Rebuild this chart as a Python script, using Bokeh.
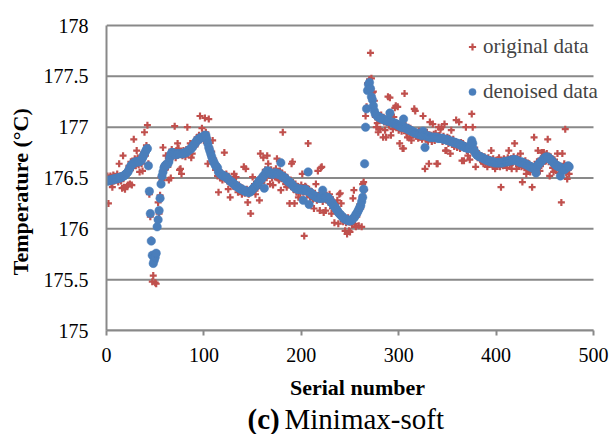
import math

from bokeh.embed import file_html
from bokeh.layouts import column, row
from bokeh.models import (ColumnDataSource, FixedTicker, Label, Legend,
                          LegendItem, NumeralTickFormatter, Range1d)
from bokeh.plotting import figure
from bokeh.resources import INLINE

# ---- data -----------------------------------------------------------------
serial = list(range(1, 476))

original = [
    176.52, 176.25, 176.50, 176.52, 176.45, 176.41, 176.53, 176.47, 176.51, 176.48,
    176.54, 176.46, 176.64, 176.52, 176.47, 176.40, 176.72, 176.41, 176.39, 176.56,
    176.42, 176.43, 176.62, 176.44, 176.66, 176.43, 176.60, 176.88, 176.69, 176.62,
    176.77, 176.70, 176.63, 176.56, 176.71, 176.64, 176.57, 176.75, 176.95, 176.72,
    176.82, 177.02, 176.64, 176.34, 176.12, 175.89, 175.48, 175.54, 175.72, 175.47,
    175.46, 176.02, 176.26, 176.15, 176.33, 176.51, 176.48, 176.80, 176.62, 176.58,
    176.72, 176.66, 176.61, 176.48, 176.68, 176.50, 176.78, 176.72, 176.76, 177.01,
    176.70, 176.77, 176.84, 176.79, 176.58, 176.59, 176.54, 176.72, 176.77, 176.74,
    176.71, 176.78, 177.00, 176.74, 176.80, 176.84, 176.70, 176.74, 176.80, 176.86,
    176.81, 176.84, 176.90, 176.85, 176.92, 177.11, 176.88, 176.99, 176.93, 176.87,
    177.09, 176.95, 176.90, 176.64, 177.08, 176.80, 176.72, 176.76, 176.87, 176.69,
    176.64, 176.58, 176.63, 176.52, 176.36, 176.57, 176.50, 176.55, 176.48, 176.53,
    176.75, 176.49, 176.54, 176.47, 176.39, 176.50, 176.31, 176.44, 176.49, 176.42,
    176.54, 176.45, 176.51, 176.39, 176.36, 176.43, 176.38, 176.41, 176.34, 176.40,
    176.61, 176.35, 176.59, 176.39, 176.26, 176.34, 176.38, 176.15, 176.40, 176.51,
    176.37, 176.44, 176.34, 176.46, 176.40, 176.48, 176.28, 176.74, 176.45, 176.52,
    176.70, 176.48, 176.58, 176.52, 176.72, 176.64, 176.53, 176.44, 176.58, 176.50,
    176.43, 176.57, 176.51, 176.59, 176.69, 176.50, 176.48, 176.57, 176.38, 176.55,
    176.95, 176.47, 176.53, 176.44, 176.41, 176.50, 176.43, 176.25, 176.48, 176.64,
    176.66, 176.39, 176.25, 176.44, 176.36, 176.42, 176.31, 176.41, 176.35, 176.43,
    176.54, 176.36, 175.93, 176.42, 176.41, 176.34, 176.84, 176.39, 176.31, 176.37,
    176.34, 176.29, 176.20, 176.35, 176.44, 176.28, 176.57, 176.33, 176.18, 176.60,
    176.61, 176.27, 176.16, 176.34, 176.18, 176.33, 176.28, 176.26, 176.34, 176.31,
    176.15, 176.20, 176.27, 176.06, 176.24, 176.17, 176.28, 176.05, 176.34, 176.35,
    176.25, 176.14, 176.07, 176.12, 175.98, 176.06, 175.95, 176.11, 175.98, 175.97,
    176.10, 176.04, 176.30, 176.38, 176.05, 176.02, 176.12, 176.18, 176.03, 176.24,
    176.20, 176.02, 176.44, 176.46, 176.38, 177.11, 177.20, 177.43, 177.40, 177.47,
    177.73, 177.48, 177.34, 177.35, 177.26, 177.10, 177.00, 177.04, 176.95, 177.07,
    176.98, 177.12, 177.07, 176.90, 177.05, 176.97, 176.90, 177.08, 177.30, 177.02,
    177.29, 176.92, 177.06, 176.98, 177.10, 177.19, 177.21, 177.03, 177.20, 176.97,
    176.84, 177.05, 176.96, 176.79, 176.79, 177.33, 177.02, 176.94, 176.90, 177.00,
    176.90, 176.99, 176.87, 176.97, 176.92, 177.18, 177.16, 176.91, 176.95, 176.89,
    176.96, 176.90, 176.94, 176.88, 177.11, 176.93, 176.59, 176.88, 176.95, 176.86,
    176.64, 177.05, 176.92, 176.86, 177.03, 176.93, 176.87, 176.94, 176.64, 176.64,
    177.00, 176.92, 176.98, 177.00, 176.86, 176.91, 177.03, 176.77, 176.77, 176.90,
    176.84, 176.89, 176.74, 176.97, 176.83, 176.88, 176.81, 176.86, 177.07, 176.80,
    176.82, 177.05, 176.79, 176.85, 176.67, 176.84, 176.67, 176.82, 177.00, 176.77,
    176.72, 176.83, 176.68, 176.78, 177.13, 177.00, 176.75, 176.80, 176.61, 176.76,
    176.70, 176.74, 176.70, 176.68, 176.72, 176.66, 176.64, 176.71, 176.65, 176.69,
    176.61, 176.70, 176.64, 176.68, 176.77, 176.63, 176.69, 176.62, 176.59, 176.67,
    176.63, 176.68, 176.70, 176.61, 176.41, 176.66, 176.62, 176.69, 176.64, 176.67,
    176.60, 176.70, 176.77, 176.63, 176.69, 176.59, 176.65, 176.71, 176.84, 176.66,
    176.59, 176.70, 176.62, 176.68, 176.74, 176.61, 176.46, 176.66, 176.60, 176.67,
    176.54, 176.63, 176.58, 176.64, 176.56, 176.62, 176.41, 176.57, 176.90, 176.62,
    176.55, 176.66, 176.77, 176.60, 176.57, 176.69, 176.75, 176.64, 176.75, 176.72,
    176.67, 176.74, 176.88, 176.66, 176.52, 176.71, 176.64, 176.60, 176.56, 176.68,
    176.58, 176.65, 176.74, 176.55, 176.60, 176.53, 176.26, 176.74, 176.57, 176.64,
    176.98, 176.55, 176.49, 176.58, 176.54,
]

denoised = [
    176.47, 176.47, 176.48, 176.48, 176.48, 176.48, 176.49, 176.49, 176.49, 176.49,
    176.50, 176.50, 176.50, 176.50, 176.51, 176.51, 176.52, 176.52, 176.53, 176.54,
    176.55, 176.56, 176.58, 176.60, 176.62, 176.63, 176.64, 176.65, 176.65, 176.66,
    176.66, 176.66, 176.66, 176.66, 176.67, 176.68, 176.70, 176.72, 176.74, 176.76,
    176.78, 176.79, 176.62, 176.37, 176.15, 175.88, 175.74, 175.66, 175.69, 175.72,
    175.76, 176.02, 176.09, 176.18, 176.30, 176.44, 176.52, 176.56, 176.60, 176.62,
    176.63, 176.63, 176.64, 176.66, 176.70, 176.73, 176.75, 176.75, 176.74, 176.74,
    176.73, 176.73, 176.74, 176.74, 176.74, 176.74, 176.74, 176.74, 176.74, 176.75,
    176.75, 176.75, 176.76, 176.77, 176.78, 176.78, 176.79, 176.80, 176.82, 176.83,
    176.84, 176.86, 176.87, 176.88, 176.88, 176.89, 176.90, 176.90, 176.90, 176.91,
    176.92, 176.92, 176.88, 176.84, 176.80, 176.77, 176.74, 176.71, 176.68, 176.66,
    176.64, 176.62, 176.61, 176.60, 176.56, 176.55, 176.54, 176.53, 176.53, 176.52,
    176.52, 176.51, 176.51, 176.50, 176.49, 176.48, 176.47, 176.46, 176.46, 176.45,
    176.44, 176.43, 176.42, 176.42, 176.41, 176.40, 176.40, 176.39, 176.39, 176.38,
    176.38, 176.37, 176.37, 176.37, 176.36, 176.36, 176.36, 176.37, 176.38, 176.39,
    176.40, 176.41, 176.42, 176.43, 176.44, 176.46, 176.47, 176.48, 176.49, 176.50,
    176.52, 176.40, 176.54, 176.56, 176.57, 176.57, 176.56, 176.55, 176.54, 176.54,
    176.54, 176.54, 176.55, 176.55, 176.54, 176.54, 176.54, 176.53, 176.65, 176.52,
    176.51, 176.51, 176.50, 176.49, 176.48, 176.47, 176.46, 176.46, 176.45, 176.44,
    176.43, 176.42, 176.41, 176.40, 176.40, 176.39, 176.39, 176.39, 176.39, 176.39,
    176.38, 176.28, 176.38, 176.39, 176.38, 176.37, 176.56, 176.24, 176.36, 176.35,
    176.34, 176.33, 176.33, 176.32, 176.31, 176.31, 176.31, 176.30, 176.30, 176.30,
    176.31, 176.38, 176.30, 176.31, 176.31, 176.31, 176.31, 176.30, 176.29, 176.27,
    176.26, 176.25, 176.23, 176.22, 176.21, 176.19, 176.18, 176.16, 176.15, 176.14,
    176.13, 176.12, 176.11, 176.10, 176.10, 176.09, 176.09, 176.08, 176.08, 176.08,
    176.08, 176.09, 176.10, 176.11, 176.12, 176.14, 176.15, 176.17, 176.19, 176.21,
    176.23, 176.27, 176.31, 176.39, 176.64, 177.00, 177.18, 177.36, 177.42, 177.44,
    177.38, 177.30, 177.27, 177.21, 177.16, 177.13, 177.12, 177.11, 177.10, 177.10,
    177.09, 177.09, 177.08, 177.08, 177.07, 177.07, 177.07, 177.06, 177.06, 177.06,
    177.14, 177.05, 177.05, 177.04, 177.04, 177.04, 177.03, 177.03, 177.02, 177.02,
    177.01, 177.01, 177.00, 177.00, 177.08, 177.00, 176.99, 176.99, 176.98, 176.98,
    176.97, 176.97, 176.96, 176.96, 176.95, 176.95, 176.94, 176.94, 176.94, 176.93,
    176.93, 176.93, 176.92, 176.92, 176.96, 176.92, 176.80, 176.92, 176.91, 176.91,
    176.91, 176.90, 176.90, 176.90, 176.90, 176.90, 176.90, 176.90, 176.90, 176.89,
    176.89, 176.89, 176.89, 176.89, 176.89, 176.88, 176.88, 176.88, 176.88, 176.87,
    176.87, 176.87, 176.86, 176.86, 176.86, 176.85, 176.85, 176.85, 176.84, 176.84,
    176.84, 176.83, 176.83, 176.82, 176.82, 176.81, 176.81, 176.80, 176.80, 176.80,
    176.79, 176.79, 176.80, 176.83, 176.87, 176.84, 176.78, 176.76, 176.74, 176.73,
    176.72, 176.72, 176.71, 176.71, 176.70, 176.70, 176.69, 176.69, 176.68, 176.68,
    176.67, 176.67, 176.67, 176.66, 176.66, 176.66, 176.66, 176.65, 176.65, 176.65,
    176.65, 176.65, 176.65, 176.65, 176.65, 176.65, 176.65, 176.66, 176.66, 176.66,
    176.66, 176.66, 176.67, 176.67, 176.67, 176.67, 176.68, 176.68, 176.68, 176.68,
    176.67, 176.67, 176.66, 176.66, 176.65, 176.66, 176.65, 176.65, 176.64, 176.64,
    176.63, 176.63, 176.62, 176.62, 176.61, 176.61, 176.60, 176.60, 176.60, 176.59,
    176.55, 176.61, 176.63, 176.64, 176.65, 176.66, 176.67, 176.68, 176.69, 176.70,
    176.70, 176.71, 176.70, 176.70, 176.69, 176.68, 176.67, 176.66, 176.65, 176.64,
    176.63, 176.62, 176.62, 176.61, 176.61, 176.52, 176.60, 176.59, 176.58, 176.58,
    176.59, 176.60, 176.61, 176.62, 176.61,
]

x_ticks = [0, 100, 200, 300, 400, 500]
y_ticks = [175, 175.5, 176, 176.5, 177, 177.5, 178]

series_names = ["original data", "denoised data"]
x_title = "Serial number"
y_title = "Temperature (°C)"
caption_bold = "(c)"
caption_rest = "Minimax-soft"

# ---- styling ----------------------------------------------------------------
FONT = "Liberation Serif"
RED = "#C0504D"
BLUE = "#4A7EBB"
GRID = "#898989"

W, H = 609, 434          # whole page
CHART_H = 365            # height of the chart row (the caption strip sits below)
YT_W = 40                # width of the strip holding the rotated y title
LEFT, RIGHT, TOP, BOTTOM = 106, 593, 25, 330   # axis box, page pixels
FRAME_TOP = 23                                  # room for the top grid line

# the frame runs to the right edge of the page so the legend is not cut;
# x = 500 still lands on RIGHT
x_end = x_ticks[0] + (x_ticks[-1] - x_ticks[0]) * (W - LEFT) / (RIGHT - LEFT)
y_end = y_ticks[-1] + (y_ticks[-1] - y_ticks[0]) * (TOP - FRAME_TOP) / (BOTTOM - TOP)

p = figure(
    width=W - YT_W, height=CHART_H,
    x_range=Range1d(x_ticks[0], x_end),
    y_range=Range1d(y_ticks[0], y_end),
    output_backend="svg", toolbar_location=None,
    min_border_left=LEFT - YT_W, min_border_right=0,
    min_border_top=FRAME_TOP, min_border_bottom=CHART_H - BOTTOM,
)
p.outline_line_color = None
p.background_fill_color = "white"
p.border_fill_color = "white"
p.xgrid.visible = False
p.ygrid.visible = False

# horizontal grid lines, one per y tick, spanning the x axis
p.segment(x0=[x_ticks[0]] * len(y_ticks), x1=[x_ticks[-1]] * len(y_ticks),
          y0=y_ticks, y1=y_ticks, line_color=GRID, line_width=2)

src = ColumnDataSource(dict(x=serial, orig=original, den=denoised))
r_orig = p.scatter("x", "orig", source=src, marker="cross", size=7,
                   line_width=2.2, line_color=RED)
r_den = p.scatter("x", "den", source=src, marker="circle", size=8.5,
                  fill_color=BLUE, line_color=BLUE, line_width=0.5)

# axes
p.xaxis.ticker = FixedTicker(ticks=x_ticks)
p.yaxis.ticker = FixedTicker(ticks=y_ticks)
p.yaxis.formatter = NumeralTickFormatter(format="0.[0]")
p.xaxis.bounds = (x_ticks[0], x_ticks[-1])
p.yaxis.bounds = (y_ticks[0], y_ticks[-1])
for ax in (p.xaxis[0], p.yaxis[0]):
    ax.axis_line_color = GRID
    ax.axis_line_width = 2
    ax.major_tick_line_color = GRID
    ax.major_tick_line_width = 2
    ax.minor_tick_line_color = None
    ax.major_label_text_font = FONT
    ax.major_label_text_font_size = "20px"
    ax.major_label_text_color = "black"
p.xaxis.major_tick_out = 5
p.xaxis.major_tick_in = 0
p.xaxis.major_label_standoff = 12
p.yaxis.major_tick_out = 0
p.yaxis.major_tick_in = 0
p.yaxis.major_label_standoff = 18

# legend
legend = Legend(
    items=[LegendItem(label=series_names[0], renderers=[r_orig]),
           LegendItem(label=series_names[1], renderers=[r_den])],
    location=(357, 226),
    orientation="vertical",
    padding=0, margin=0, spacing=20,
    glyph_width=18, glyph_height=21, label_height=21, label_standoff=2,
    label_text_font=FONT, label_text_font_size="21px",
    background_fill_alpha=0, border_line_color=None,
)
p.add_layout(legend, "center")


def text_strip(width, height, y_top):
    """A bare figure whose data coordinates are page pixels."""
    f = figure(width=width, height=height,
               x_range=Range1d(0, width), y_range=Range1d(y_top + height, y_top),
               output_backend="svg", toolbar_location=None,
               x_axis_type=None, y_axis_type=None, min_border=0)
    f.outline_line_color = None
    f.xgrid.visible = False
    f.ygrid.visible = False
    f.background_fill_color = "white"
    f.border_fill_color = "white"
    return f


# rotated y title
yt = text_strip(YT_W, CHART_H, 0)
yt.add_layout(Label(x=20, y=200, text=y_title, angle=math.pi / 2,
                    text_align="center", text_baseline="middle",
                    text_font=FONT, text_font_style="bold",
                    text_font_size="22px", text_color="black"))

# x title and caption
cap = text_strip(W, H - CHART_H, CHART_H)
cap.add_layout(Label(x=357, y=386.5, text=x_title,
                     text_align="center", text_baseline="alphabetic",
                     text_font=FONT, text_font_style="bold",
                     text_font_size="22px", text_color="black"))
cap.add_layout(Label(x=247, y=418, text=caption_bold,
                     text_align="left", text_baseline="alphabetic",
                     text_font=FONT, text_font_style="bold",
                     text_font_size="29px", text_color="black"))
cap.add_layout(Label(x=284, y=418, text=caption_rest,
                     text_align="left", text_baseline="alphabetic",
                     text_font=FONT, text_font_size="29px",
                     text_color="black"))

page = column(row(yt, p, spacing=0), cap, spacing=0)
open("out.html", "w").write(file_html(page, INLINE))
